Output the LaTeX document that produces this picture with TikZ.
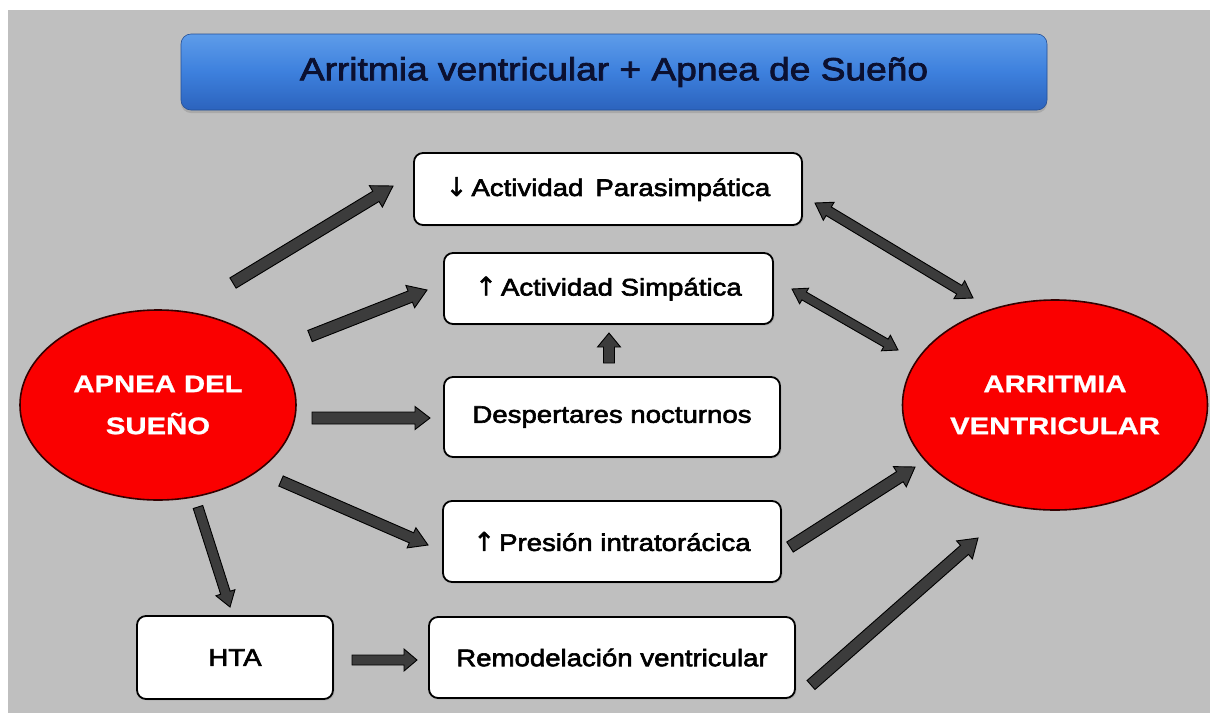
\documentclass[tikz,border=0pt]{standalone}
\usepackage{fontspec}
\setmainfont{Liberation Sans}
\newfontfamily\boxfont[FakeStretch=1.15,FakeBold=2.5]{Liberation Sans}
\newfontfamily\arrfont[FakeBold=1.5]{DejaVu Sans}
\newfontfamily\ellfont[FakeStretch=1.22,FakeBold=1]{Liberation Sans}
\newfontfamily\titfont[FakeStretch=1.16,FakeBold=2.5]{Liberation Sans}
\usetikzlibrary{calc,shapes.geometric,shadows}
\definecolor{bggray}{HTML}{BFBFBF}
\definecolor{arrowgray}{HTML}{3C3C3C}
\definecolor{redfill}{HTML}{FA0000}
\definecolor{bluetop}{HTML}{5E9CE9}
\definecolor{bluemid}{HTML}{3D80DD}
\definecolor{bluebot}{HTML}{2C63BD}
\definecolor{titletext}{HTML}{0B1030}
\tikzset{
  blkstyle/.style={fill=arrowgray, draw=black, line width=0.9pt, line join=miter},
  box/.style={draw=black, line width=1.8pt, fill=white, rounded corners=9pt,
    inner sep=0pt, text=black, font=\boxfont\fontsize{24}{28}\selectfont,
    drop shadow={opacity=0.25, shadow xshift=1.5pt, shadow yshift=-1.5pt}},
  oval/.style={ellipse, draw=black!80!red, line width=1.6pt, fill=redfill,
    inner sep=0pt, text=white, align=center,
    font=\ellfont\bfseries\fontsize{24}{42}\selectfont},
  titlebox/.style={rounded corners=10pt, top color=bluetop, bottom color=bluebot,
    middle color=bluemid, draw=bluebot!80!black, line width=0.6pt,
    minimum width=866pt, minimum height=76pt, inner sep=0pt,
    text=titletext, font=\titfont\fontsize{32}{36}\selectfont,
    drop shadow={opacity=0.35, shadow xshift=0pt, shadow yshift=-3pt}}
}
\newcommand\upar{{\arrfont\fontsize{26}{28}\selectfont ↑}\,}
\newcommand\downar{{\arrfont\fontsize{26}{28}\selectfont ↓}\,}
\newcommand\blkarrow[5]{%
  \filldraw[blkstyle] ($(#4)!#1pt!90:(#5)$) -- ($(#5)!#3pt!(#4)!#1pt!-90:(#4)$)
    -- ($(#5)!#3pt!(#4)!#2pt!-90:(#4)$) -- (#5)
    -- ($(#5)!#3pt!(#4)!#2pt!90:(#4)$) -- ($(#5)!#3pt!(#4)!#1pt!90:(#4)$)
    -- ($(#4)!#1pt!-90:(#5)$) -- cycle;}
\newcommand\dblarrow[5]{%
  \filldraw[blkstyle] (#4) -- ($(#4)!#3pt!(#5)!#2pt!90:(#5)$)
    -- ($(#4)!#3pt!(#5)!#1pt!90:(#5)$) -- ($(#5)!#3pt!(#4)!#1pt!-90:(#4)$)
    -- ($(#5)!#3pt!(#4)!#2pt!-90:(#4)$) -- (#5)
    -- ($(#5)!#3pt!(#4)!#2pt!90:(#4)$) -- ($(#5)!#3pt!(#4)!#1pt!90:(#4)$)
    -- ($(#4)!#3pt!(#5)!#1pt!-90:(#5)$) -- ($(#4)!#3pt!(#5)!#2pt!-90:(#5)$) -- cycle;}
\begin{document}
\begin{tikzpicture}[x=1pt,y=-1pt]
\useasboundingbox (0,0) rectangle (1210,713);
\fill[white] (0,0) rectangle (1210,713);
\fill[bggray] (8,10) rectangle (1210,713);

% title
\node[titlebox] (title) at (614,72) {Arritmia ventricular + Apnea de Sueño};

% ovals
\node[oval, minimum width=276pt, minimum height=190pt] (apnea) at (158,405) {APNEA DEL\\SUEÑO};
\node[oval, minimum width=305pt, minimum height=210pt] (arrit) at (1055,405) {ARRITMIA\\VENTRICULAR};

% boxes
\node[box, minimum width=388pt, minimum height=72pt] (para) at (608,189) {\downar Actividad\enspace Parasimpática};
\node[box, minimum width=329pt, minimum height=71pt] (simp) at (608.5,288.5) {\upar Actividad Simpática};
\node[box, minimum width=336pt, minimum height=80pt] (desp) at (612,417) {Despertares nocturnos};
\node[box, minimum width=338pt, minimum height=81pt] (pres) at (612,541.5) {\upar Presión intratorácica};
\node[box, minimum width=366pt, minimum height=81pt] (remo) at (612,657.5) {Remodelación ventricular};
\node[box, minimum width=196pt, minimum height=83pt] (hta) at (235,657.5) {HTA};

% connector end points
\coordinate (a1s) at (233,283);  \coordinate (a1e) at (393,186);
\coordinate (a2s) at (310,336);  \coordinate (a2e) at (427,290);
\coordinate (a3s) at (312,418);  \coordinate (a3e) at (430,418);
\coordinate (a4s) at (281,481);  \coordinate (a4e) at (428,545);
\coordinate (a5s) at (198,507);  \coordinate (a5e) at (230,607);
\coordinate (a6s) at (352,660);  \coordinate (a6e) at (417,660);
\coordinate (a7s) at (790,547);  \coordinate (a7e) at (915,467);
\coordinate (a8s) at (811,685);  \coordinate (a8e) at (978,538);
\coordinate (a9s) at (609,363);  \coordinate (a9e) at (609,333);
\coordinate (b1s) at (815,203);  \coordinate (b1e) at (973,298);
\coordinate (b2s) at (792,289);  \coordinate (b2e) at (898,350);

% connectors
\blkarrow{6}{12.5}{20}{a1s}{a1e}
\blkarrow{6}{12}{18}{a2s}{a2e}
\blkarrow{6}{11.5}{15}{a3s}{a3e}
\blkarrow{5.5}{11}{18}{a4s}{a4e}
\blkarrow{5}{10}{15}{a5s}{a5e}
\blkarrow{5}{11}{13}{a6s}{a6e}
\blkarrow{6}{12}{18}{a7s}{a7e}
\blkarrow{6}{12}{18}{a8s}{a8e}
\blkarrow{5.5}{11.5}{14}{a9s}{a9e}
\dblarrow{5}{10.5}{16}{b1s}{b1e}
\dblarrow{4.5}{9}{14}{b2s}{b2e}
\end{tikzpicture}
\end{document}
